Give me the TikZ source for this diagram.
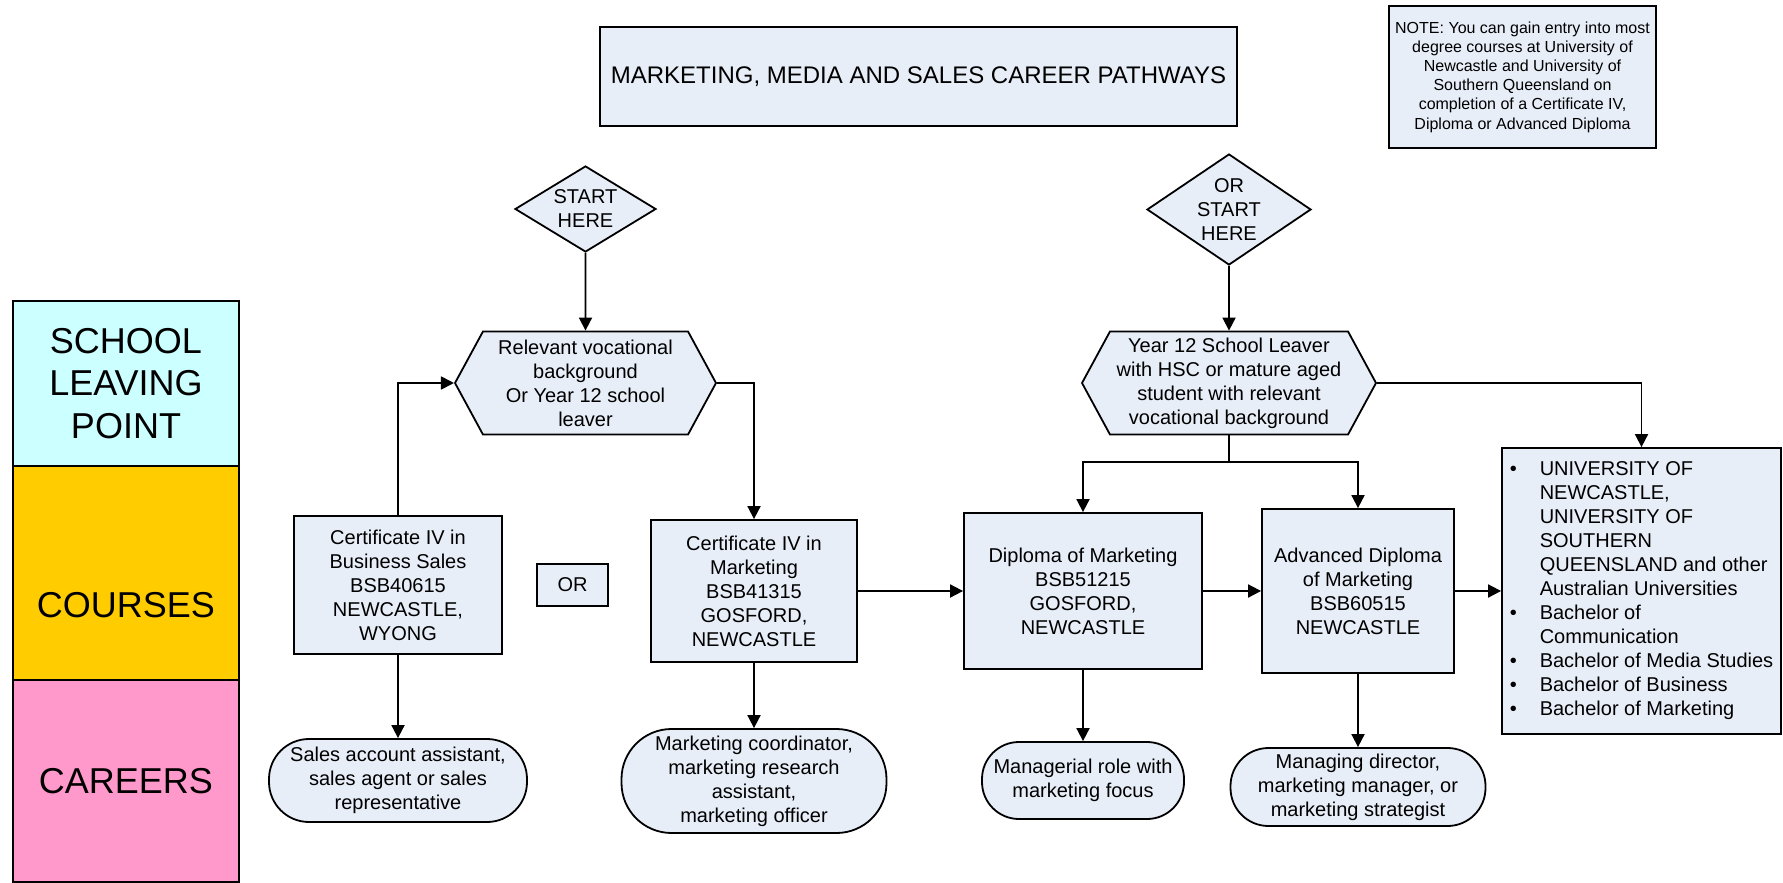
\documentclass[tikz,border=0pt]{standalone}
\usepackage{fontspec}
\setmainfont{Liberation Sans}
\usetikzlibrary{arrows.meta,shapes.geometric,shapes.symbols}

\definecolor{boxfill}{RGB}{232,238,248}
\definecolor{schoolcol}{RGB}{204,255,255}
\definecolor{coursecol}{RGB}{255,204,0}
\definecolor{careercol}{RGB}{255,153,204}

\begin{document}
\begin{tikzpicture}[x=0.5pt,y=-0.5pt,
        every node/.style={font=\fontsize{10}{12}\selectfont,align=center},
        box/.style={draw,line width=0.9pt,fill=boxfill,inner sep=1pt},
        startbox/.style={box,diamond,aspect=1.6,inner sep=0pt},
        hexbox/.style={box,signal,signal to=west and east,signal pointer angle=123,minimum height=51.5pt},
        coursebox/.style={box,rectangle},
        jobbox/.style={box,rectangle},
        lane/.style={draw,line width=0.7pt,minimum width=113pt,font=\fontsize{18}{21.3}\selectfont},
        arr/.style={line width=0.9pt,-{Triangle[length=6.5pt,width=6.5pt]}}]
    \useasboundingbox (0,0) rectangle (1783,883);

    % side column
    \node[lane,fill=schoolcol,minimum height=82.5pt] (school) at (126,383.5) {SCHOOL\\LEAVING\\POINT};
    \node[lane,fill=coursecol,minimum height=107pt,
        label={[font=\fontsize{18}{21.3}\selectfont,yshift=-16pt]center:COURSES}] (courses) at (126,573) {};
    \node[lane,fill=careercol,minimum height=101pt] (careers) at (126,781) {CAREERS};

    \node[box,minimum width=318.5pt,minimum height=49.5pt,font=\fontsize{12}{14}\selectfont] (title) at (918.5,76.5)
        {MARKETING, MEDIA AND SALES CAREER PATHWAYS};
    \node[box,minimum width=133.5pt,minimum height=71pt,font=\fontsize{8}{9.6}\selectfont] (note) at (1522.5,77)
        {NOTE: You can gain entry into most\\degree courses at University of\\Newcastle and University of\\Southern Queensland on\\completion of a Certificate IV,\\Diploma or Advanced Diploma};

    \node[startbox,minimum width=70.5pt,minimum height=43pt] (start) at (585.5,209) {START\\HERE};
    \node[startbox,minimum width=82pt,minimum height=55.5pt] (orstart) at (1229,209.5) {OR\\START\\HERE};

    \node[hexbox,minimum width=130.5pt] (relhex) at (585.5,383)
        {Relevant vocational\\background\\Or Year 12 school\\leaver};
    \node[hexbox,minimum width=147pt] (y12hex) at (1229,383)
        {Year 12 School Leaver\\with HSC or mature aged\\student with relevant\\vocational background};

    % courses
    \node[coursebox,minimum width=104pt,minimum height=69pt] (certbs) at (398,585)
        {Certificate IV in\\Business Sales\\BSB40615\\NEWCASTLE,\\WYONG};
    \node[coursebox,minimum width=35.5pt,minimum height=21pt] (orbox) at (572.5,585) {OR};
    \node[coursebox,minimum width=103pt,minimum height=71pt] (certmk) at (754,591)
        {Certificate IV in\\Marketing\\BSB41315\\GOSFORD,\\NEWCASTLE};
    \node[coursebox,minimum width=119pt,minimum height=78pt] (dipmk) at (1083,591)
        {Diploma of Marketing\\BSB51215\\GOSFORD,\\NEWCASTLE};
    \node[coursebox,minimum width=96pt,minimum height=82pt] (advdip) at (1358,591)
        {Advanced Diploma\\of Marketing\\BSB60515\\NEWCASTLE};
    \node[coursebox,minimum width=139.5pt,minimum height=143pt] (uni) at (1641.5,591)
        {\begin{tabular}{@{}l@{\hspace{11.5pt}}l@{}}
            \textbullet & UNIVERSITY OF\\
                        & NEWCASTLE,\\
                        & UNIVERSITY OF\\
                        & SOUTHERN\\
                        & QUEENSLAND and other\\
                        & Australian Universities\\
            \textbullet & Bachelor of\\
                        & Communication\\
            \textbullet & Bachelor of Media Studies\\
            \textbullet & Bachelor of Business\\
            \textbullet & Bachelor of Marketing
        \end{tabular}};

    % careers
    \node[jobbox,minimum width=129pt,minimum height=41.5pt,rounded corners=20pt] (salesjob) at (398,780.5)
        {Sales account assistant,\\sales agent or sales\\representative};
    \node[jobbox,minimum width=132.5pt,minimum height=52pt,rounded corners=25pt] (mkjob) at (754,781)
        {Marketing coordinator,\\marketing research\\assistant,\\marketing officer};
    \node[jobbox,minimum width=101pt,minimum height=38.5pt,rounded corners=18.5pt] (mgrjob) at (1083,780.5)
        {Managerial role with\\marketing focus};
    \node[jobbox,minimum width=127.5pt,minimum height=39pt,rounded corners=19pt] (dirjob) at (1358,787)
        {Managing director,\\marketing manager, or\\marketing strategist};

    \draw[arr] (start) -- (relhex);
    \draw[arr] (certbs.north) |- (relhex.west);
    \draw[arr] (relhex.east) -| (certmk.north);
    \draw[arr] (certbs) -- (salesjob);
    \draw[arr] (certmk) -- (mkjob);
    \draw[arr] (certmk) -- (dipmk);
    \draw[arr] (dipmk) -- (advdip);
    \draw[arr] (advdip) -- (uni);
    \draw[arr] (dipmk) -- (mgrjob);
    \draw[arr] (advdip) -- (dirjob);

    \draw[arr] (orstart) -- (y12hex);
    \coordinate (split) at (1229,462);
    \draw[line width=0.9pt] (y12hex.south) -- (split);
    \draw[arr] (split) -| (dipmk.north);
    \draw[arr] (split) -| (advdip.north);
    \draw[arr] (y12hex.east) -| (uni.north);
\end{tikzpicture}
\end{document}
